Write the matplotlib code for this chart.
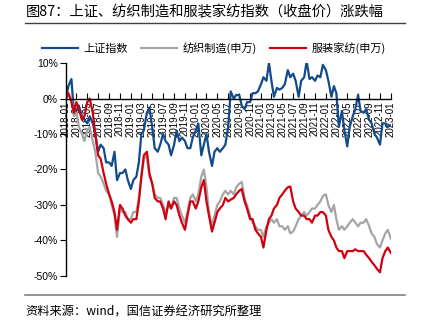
import numpy as np
import pandas as pd
import matplotlib
matplotlib.use('Agg')
import matplotlib.pyplot as plt
import matplotlib.dates as mdates
from matplotlib.ticker import FuncFormatter

plt.rcParams['font.family'] = ['Noto Sans CJK SC', 'DejaVu Sans']
plt.rcParams['axes.unicode_minus'] = False

# 半月取点：2018-01-01 ~ 2023-01-01
dates = pd.date_range('2018-01-01', '2023-01-01', freq='SMS')

# 上证指数 涨跌幅(%)
sh = [0, 3.5, 5.5, -4, -3.5, -2, -5, -6, -7, -5, -7, -10, -15, -13, -14, -18, -18, -19, -15, -23, -21, -21, -20, -23,
      -25.5, -23, -22, -18, -10, -9, -4, -2.5, -8, -14, -15, -13, -10, -12, -13, -16, -13, -9, -12, -11, -12, -14, -14, -11,
      -9, -7, -16, -13, -10, -15, -19, -15, -14, -15, -14, -13, -8, 2, 0, 1, 1, -2, -3, -1, -1, 1.5, 1.5, 2,
      4, 6, 5, 10, 5, 0.5, 3, 2.5, 3, 4, 8, 6, 7, 5, 0.5, 5, 6, 10.5, 5.5, 6, 5, 6.5, 6, 9.5,
      8, 5, 0.5, 3.5, 1.5, -8, -3.5, -9, -13.5, -8, -5, -3, 1, -3.5, -4, -3, -6, -7, -10, -11, -13, -7, -7, -8,
      -7.5]

# 纺织制造(申万)
fz = [0, 1, 0, -5, -4, -8, -10, -12, -9, -8, -12, -15, -21, -22, -24, -26, -27, -30, -33, -39, -31, -32, -32, -34,
      -34, -32, -32, -28, -22, -17, -16, -22, -24, -27, -28, -28, -30, -32, -30, -31, -28, -28, -31, -33, -35, -32, -28, -27,
      -29, -27, -22, -20, -25, -32, -36, -33, -30, -29, -27, -26, -27, -26, -27, -25, -24, -23.5, -28, -30, -33, -35, -36, -37,
      -37, -39, -36, -35, -34, -35, -34, -36, -36, -37, -36, -38, -37.5, -36, -34, -33, -32, -33, -32, -31, -31, -30, -29, -27.5,
      -27, -30, -32, -30, -34, -37, -36, -37, -36, -35, -34, -35, -36, -35, -35, -34, -36, -38, -39, -41, -42, -40, -38, -37,
      -39.5]

# 服装家纺(申万)
fj = [0, 1.5, -1, -4, -1, -3, -6, -5, -1, 0, -4, -10, -16, -17, -21, -24, -27, -29, -32, -37, -30, -31, -33, -34,
      -35, -34, -34, -29, -22, -16, -15, -21, -24, -28, -29, -29, -31, -34, -29, -31, -29, -30, -33, -35, -37, -33, -29, -29,
      -31, -29, -25, -23, -29, -33, -37.5, -35, -32, -31, -30, -28, -29, -28.5, -28, -27, -26, -25.5, -29, -31, -34, -34, -37, -38,
      -39, -42, -37, -34, -33, -31, -30, -28, -27, -26, -25, -24.8, -29, -31, -32, -33, -33, -34, -34, -35, -33, -33, -32, -32,
      -33, -37, -39, -40, -42, -43, -43, -45, -43, -43, -43, -42.5, -43, -43, -43, -44, -45, -46, -47, -48, -49, -45, -43, -42,
      -43.5]

names = ['上证指数', '纺织制造(申万)', '服装家纺(申万)']
colors = ['#114B8C', '#A5A5A5', '#D0000F']

fig = plt.figure(figsize=(4.28, 3.25), dpi=100)
ax = fig.add_axes([0.154, 0.151, 0.76, 0.655])

for s, n, c in zip([sh, fz, fj], names, colors):
    ax.plot(dates, s, color=c, lw=1.6, label=n)

ax.set_ylim(-50, 10)
ax.set_yticks(np.arange(-50, 11, 10))
ax.yaxis.set_major_formatter(FuncFormatter(lambda v, p: '%d%%' % v))
ax.set_xlim(pd.Timestamp('2018-01-01'), pd.Timestamp('2023-01-03'))
ax.xaxis.set_major_locator(mdates.MonthLocator(bymonth=[1, 3, 5, 7, 9, 11]))
ax.xaxis.set_major_formatter(mdates.DateFormatter('%Y-%m'))

ax.spines['top'].set_visible(False)
ax.spines['right'].set_visible(False)
ax.spines['bottom'].set_position(('data', 0))
ax.spines['bottom'].set_linewidth(1.0)
ax.spines['left'].set_linewidth(1.0)
ax.tick_params(axis='x', direction='in', length=4, labelsize=7, rotation=90, pad=2)
ax.tick_params(axis='y', direction='out', length=4, labelsize=7.5, pad=2)
for t in ax.get_xticklabels():
    t.set_family(['Liberation Sans', 'DejaVu Sans'])
for t in ax.get_yticklabels():
    t.set_family(['Liberation Sans', 'DejaVu Sans'])

fig.legend(loc='center', bbox_to_anchor=(0.5, 0.852), ncol=3, frameon=False,
           fontsize=8, handlelength=3.2, columnspacing=1.2, handletextpad=0.5)

fig.text(0.06, 0.963, '图87：上证、纺织制造和服装家纺指数（收盘价）涨跌幅', fontsize=10.3, va='center', ha='left')
fig.add_artist(plt.Line2D([0.058, 0.947], [0.929, 0.929], color='#404040', lw=1.0))
fig.add_artist(plt.Line2D([0.058, 0.947], [0.092, 0.092], color='#808080', lw=1.2))
fig.text(0.06, 0.04, '资料来源：wind，国信证券经济研究所整理', fontsize=8.8, va='center', ha='left')

fig.savefig('out.png', dpi=100)
